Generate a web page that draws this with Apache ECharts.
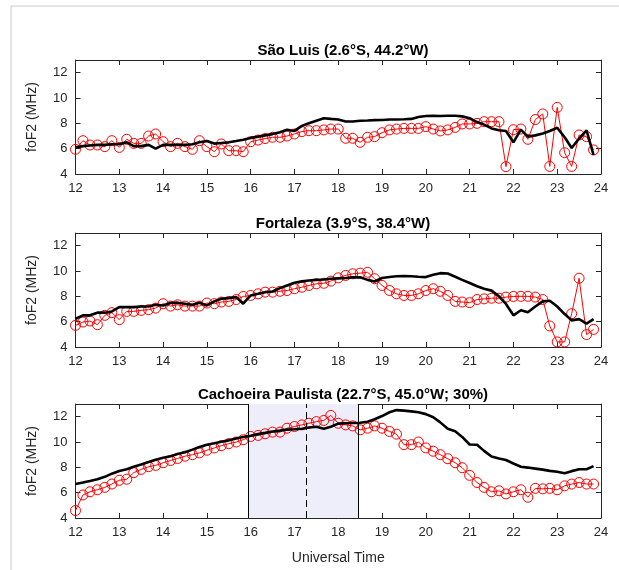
<!DOCTYPE html>
<html>
<head>
<meta charset="utf-8">
<script src="https://cdn.jsdelivr.net/npm/echarts@6/dist/echarts.min.js"></script>
<style>
html,body{margin:0;padding:0;background:#fff;}
#c{width:619px;height:570px;}
</style>
</head>
<body>
<div id="c"></div>
<script>
// Universal Time (hours), 10-minute samples
const times = [
  12.00,12.17,12.33,12.50,12.67,12.83, 13.00,13.17,13.33,13.50,13.67,13.83,
  14.00,14.17,14.33,14.50,14.67,14.83, 15.00,15.17,15.33,15.50,15.67,15.83,
  16.00,16.17,16.33,16.50,16.67,16.83, 17.00,17.17,17.33,17.50,17.67,17.83,
  18.00,18.17,18.33,18.50,18.67,18.83, 19.00,19.17,19.33,19.50,19.67,19.83,
  20.00,20.17,20.33,20.50,20.67,20.83, 21.00,21.17,21.33,21.50,21.67,21.83,
  22.00,22.17,22.33,22.50,22.67,22.83, 23.00,23.17,23.33,23.50,23.67,23.83
];

const titles = [
  'São Luis (2.6°S, 44.2°W)',
  'Fortaleza (3.9°S, 38.4°W)',
  'Cachoeira Paulista (22.7°S, 45.0°W; 30%)'
];

// São Luis
const saoLuisObs = [
  5.95,6.63,6.29,6.29,6.16,6.63, 6.10,6.74,6.42,6.42,7.00,7.16,
  6.55,6.16,6.42,6.16,5.95,6.63, 6.16,5.76,6.37,5.84,5.84,5.76,
  6.55,6.68,6.80,6.90,6.90,7.00, 7.16,7.35,7.42,7.42,7.48,7.55,
  7.55,6.82,6.82,6.50,6.90,6.95, 7.26,7.48,7.55,7.60,7.60,7.60,
  7.74,7.55,7.40,7.48,7.68,7.95, 7.95,8.00,8.13,8.13,8.13,4.58,
  7.50,7.55,6.74,8.30,8.74,4.60, 9.26,5.68,4.60,7.08,6.95,5.90
];
const saoLuisModel = [
  6.10,6.20,6.25,6.30,6.30,6.35, 6.35,6.50,6.20,6.20,6.30,6.00,
  6.30,6.30,6.30,6.30,6.35,6.50, 6.60,6.40,6.45,6.50,6.60,6.70,
  6.85,6.95,7.05,7.15,7.30,7.50, 7.40,7.80,8.00,8.20,8.40,8.35,
  8.30,8.15,8.15,8.20,8.22,8.25, 8.26,8.30,8.30,8.32,8.35,8.50,
  8.58,8.60,8.58,8.60,8.60,8.55, 8.40,8.10,7.90,7.60,7.45,7.40,
  6.50,7.50,6.95,7.05,7.20,7.40, 7.65,6.90,6.05,6.80,7.45,5.50
];

// Fortaleza
const fortalezaObs = [
  5.71,5.97,6.05,5.76,6.50,6.71, 6.16,6.81,6.81,6.89,6.95,7.07,
  7.42,7.23,7.33,7.23,7.23,7.23, 7.47,7.42,7.55,7.60,7.75,7.99,
  8.07,8.20,8.33,8.33,8.40,8.46, 8.60,8.72,8.86,8.99,9.03,9.20,
  9.46,9.65,9.78,9.83,9.90,9.39, 8.86,8.46,8.20,8.07,8.07,8.20,
  8.46,8.60,8.40,8.07,7.60,7.55, 7.50,7.75,7.80,7.85,7.85,7.94,
  7.99,8.00,8.00,7.94,7.75,5.66, 4.40,4.40,6.63,9.43,4.98,5.39
];
const fortalezaModel = [
  6.23,6.50,6.50,6.71,6.71,6.81, 7.15,7.15,7.15,7.20,7.20,7.33,
  7.28,7.47,7.50,7.42,7.33,7.50, 7.28,7.60,7.81,7.86,7.94,7.42,
  8.07,8.20,8.33,8.38,8.65,8.86, 9.07,9.18,9.25,9.30,9.33,9.39,
  9.42,9.45,9.50,9.50,9.30,9.17, 9.45,9.52,9.58,9.60,9.58,9.55,
  9.52,9.70,9.83,9.80,9.55,9.30, 9.05,8.80,8.60,8.45,8.00,7.40,
  6.50,6.90,6.75,7.20,7.60,7.65, 7.20,6.60,6.10,6.20,5.85,6.20
];

// Cachoeira Paulista
const cachoeiraObs = [
  4.59,5.82,6.07,6.23,6.42,6.68, 6.98,7.06,7.58,7.84,8.05,8.15,
  8.36,8.54,8.70,8.88,9.00,9.14, 9.35,9.53,9.71,9.87,10.00,10.18,
  10.44,10.52,10.65,10.78,10.78,11.09, 11.22,11.35,11.48,11.61,11.70,12.10,
  11.48,11.35,11.27,10.96,11.09,11.27, 11.09,10.83,10.62,9.79,9.79,10.00,
  9.53,9.27,9.00,8.68,8.36,7.97, 7.37,6.80,6.42,6.07,6.15,5.90,
  6.07,6.23,5.64,6.34,6.30,6.34, 6.23,6.54,6.68,6.80,6.68,6.68
];
const cachoeiraModel = [
  6.68,6.80,6.92,7.06,7.25,7.50, 7.71,7.85,8.05,8.23,8.42,8.60,
  8.75,8.88,9.05,9.19,9.40,9.60, 9.79,9.90,10.02,10.13,10.28,10.40,
  10.50,10.62,10.72,10.83,10.90,10.98, 11.01,11.05,11.15,11.20,11.05,11.20,
  11.45,11.48,11.50,11.52,11.60,11.80, 12.05,12.35,12.52,12.48,12.42,12.35,
  12.20,11.95,11.55,11.05,10.85,10.40, 9.80,9.78,9.30,8.85,8.70,8.58,
  8.30,8.05,7.98,7.90,7.82,7.72, 7.65,7.53,7.70,7.85,7.85,8.10
];

// shaded interval and dashed marker (Cachoeira Paulista panel)
const shadeStart = 15.95;
const shadeEnd = 18.45;
const dashedAt = 17.28;

const obsSets = [saoLuisObs, fortalezaObs, cachoeiraObs];
const modelSets = [saoLuisModel, fortalezaModel, cachoeiraModel];

const FONT = '"Liberation Sans", Arial, Helvetica, sans-serif';
const TXT = '#262626';
const gridTops = [60, 233, 404];
const gridH = 114;

const grids = [], xAxes = [], yAxes = [], series = [], titleArr = [];
for (let g = 0; g < 3; g++) {
  grids.push({left: 75.5, right: 18, top: gridTops[g], height: gridH});
  titleArr.push({
    text: titles[g], left: 338, top: gridTops[g] - 22, textAlign: 'center',
    textStyle: {fontFamily: FONT, fontSize: 15, fontWeight: 'bold', color: '#000'}
  });
  xAxes.push({
    type: 'value', gridIndex: g, min: 12, max: 24, interval: 1, position: 'bottom',
    axisLine: {show: true, onZero: false, lineStyle: {color: TXT, width: 1}},
    axisTick: {show: true, inside: true, length: 5, lineStyle: {color: TXT}},
    axisLabel: {show: true, margin: 8, fontFamily: FONT, fontSize: 13, color: TXT},
    splitLine: {show: false},
    name: g === 2 ? 'Universal Time' : '',
    nameLocation: 'middle', nameGap: 33,
    nameTextStyle: {fontFamily: FONT, fontSize: 14, color: TXT}
  });
  xAxes.push({
    type: 'value', gridIndex: g, min: 12, max: 24, interval: 1, position: 'top',
    axisLine: {show: true, onZero: false, lineStyle: {color: TXT, width: 1}},
    axisTick: {show: true, inside: true, length: 5, lineStyle: {color: TXT}},
    axisLabel: {show: false}, splitLine: {show: false}
  });
  yAxes.push({
    type: 'value', gridIndex: g, min: 4, max: 13, interval: 2, position: 'left',
    axisLine: {show: true, onZero: false, lineStyle: {color: TXT, width: 1}},
    axisTick: {show: true, inside: true, length: 5, lineStyle: {color: TXT}},
    axisLabel: {show: true, margin: 8, fontFamily: FONT, fontSize: 13, color: TXT,
      showMaxLabel: false, formatter: v => (v === 13 ? '' : String(v))},
    splitLine: {show: false},
    name: 'foF2 (MHz)', nameLocation: 'middle', nameRotate: 90, nameGap: 36,
    nameTextStyle: {fontFamily: FONT, fontSize: 14, color: TXT}
  });
  yAxes.push({
    type: 'value', gridIndex: g, min: 4, max: 13, interval: 2, position: 'right',
    axisLine: {show: true, onZero: false, lineStyle: {color: TXT, width: 1}},
    axisTick: {show: true, inside: true, length: 5, lineStyle: {color: TXT}},
    axisLabel: {show: false}, splitLine: {show: false}
  });

  const obs = obsSets[g].map((v, i) => [times[i], v]);
  const mod = modelSets[g].map((v, i) => [times[i], v]);
  const redSeries = {
    type: 'line', xAxisIndex: g * 2, yAxisIndex: g * 2, data: obs,
    symbol: 'circle', symbolSize: 10, showAllSymbol: true,
    lineStyle: {color: '#ff0000', width: 1},
    itemStyle: {color: 'rgba(0,0,0,0)', borderColor: '#ff0000', borderWidth: 1},
    silent: true, animation: false, z: 3
  };
  if (g === 2) {
    redSeries.markArea = {
      silent: true,
      itemStyle: {color: '#eeeefa'},
      data: [[{xAxis: shadeStart}, {xAxis: shadeEnd}]]
    };
    redSeries.markLine = {
      silent: true, symbol: 'none', label: {show: false}, animation: false,
      data: [
        {xAxis: shadeStart, lineStyle: {color: '#000', width: 1, type: 'solid'}},
        {xAxis: shadeEnd, lineStyle: {color: '#000', width: 1, type: 'solid'}},
        {xAxis: dashedAt, lineStyle: {color: '#000', width: 1, type: [7, 4]}}
      ]
    };
  }
  series.push(redSeries);
  series.push({
    type: 'line', xAxisIndex: g * 2, yAxisIndex: g * 2, data: mod,
    symbol: 'none', lineStyle: {color: '#000', width: 2.6},
    silent: true, animation: false, z: 4
  });
}

const chart = echarts.init(document.getElementById('c'), null, {renderer: 'canvas'});
chart.setOption({
  backgroundColor: '#fff',
  animation: false,
  title: titleArr,
  grid: grids,
  xAxis: xAxes,
  yAxis: yAxes,
  series: series,
  graphic: [
    {type: 'line', shape: {x1: 11, y1: 6, x2: 11, y2: 570}, style: {stroke: '#c8c8c8', lineWidth: 1}},
    {type: 'line', shape: {x1: 11, y1: 6, x2: 619, y2: 6}, style: {stroke: '#c8c8c8', lineWidth: 1}}
  ]
});
</script>
</body>
</html>
